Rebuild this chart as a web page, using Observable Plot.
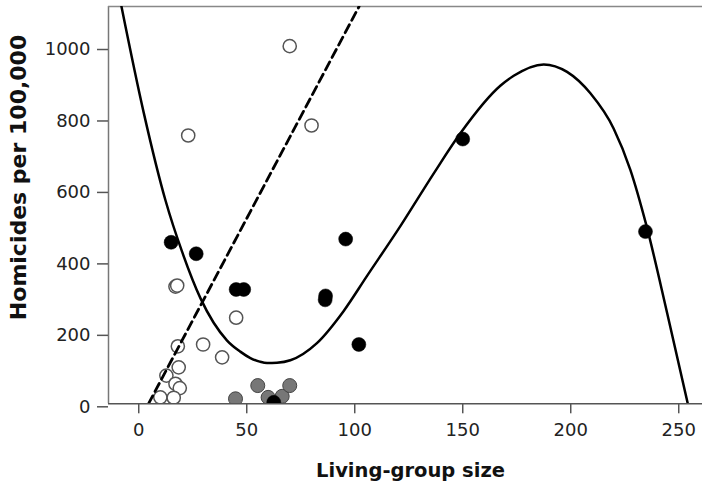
<!DOCTYPE html>
<html>
<head>
<meta charset="utf-8">
<script src="https://cdn.jsdelivr.net/npm/d3@7"></script>
<script src="https://cdn.jsdelivr.net/npm/@observablehq/plot@0.6"></script>
<style>
  html, body { margin: 0; padding: 0; background: #fff; }
</style>
</head>
<body>
<div id="chart"></div>
<script>
// Open circles
const openX = [69.9, 22.9, 80.0, 17.0, 17.8, 45.1, 18.1, 29.8, 38.6, 18.5, 12.8, 17.0, 19.0, 10.0, 16.2];
const openY = [1001, 751, 779, 328, 331, 241, 161, 166, 130, 102, 79, 56, 44, 18, 17];
// Gray circles
const grayX = [44.8, 55.1, 59.9, 66.4, 69.9];
const grayY = [14, 51, 18, 21, 51];
// Black circles
const blackX = [15.0, 26.6, 45.1, 48.6, 86.3, 86.5, 95.8, 101.9, 150.0, 234.6, 62.5];
const blackY = [452, 420, 320, 320, 291, 302, 461, 166, 741, 482, 4];
// Solid fitted curve
const fitX = [-8.0, 2.3, 12.4, 20.1, 28.6, 40.9, 47.0, 51.7, 56.0, 59.4, 64.0, 70.2, 82.5, 94.9, 105.7, 121.2, 136.6, 148.9, 167.4, 173.6, 187.5, 198.3, 209.1, 219.9, 227.6, 235.0, 244.6, 254.2];
const fitY = [1112, 815, 569, 425, 295, 177, 146, 128, 118, 114, 115, 122, 170, 260, 358, 498, 645, 757, 890, 918, 950, 929, 869, 770, 655, 500, 255, 0];
// Dashed line endpoints
const dashX = [4.5, 102.0];
const dashY = [0, 1112];
// Ticks
const xTicks = [0, 50, 100, 150, 200, 250];
const yTicks = [0, 200, 400, 600, 800, 1000];

const openPts = openX.map((x, i) => ({x, y: openY[i]}));
const grayPts = grayX.map((x, i) => ({x, y: grayY[i]}));
const blackPts = blackX.map((x, i) => ({x, y: blackY[i]}));
const fitPts = fitX.map((x, i) => ({x, y: fitY[i]}));
const dashPts = dashX.map((x, i) => ({x, y: dashY[i]}));

const xMin = -14, xMax = 261, yMax = 1112;

const chart = Plot.plot({
  width: 702,
  height: 485,
  marginLeft: 108,
  marginRight: 0,
  marginTop: 6,
  marginBottom: 81.7,
  x: {domain: [xMin, xMax]},
  y: {domain: [0, yMax]},
  style: {fontFamily: "DejaVu Sans", fontSize: "18px", background: "#fff", color: "#222"},
  marks: [
    Plot.ruleX([xMin], {stroke: "#777", strokeWidth: 1.5}),
    Plot.ruleY([yMax], {stroke: "#888", strokeWidth: 1.5}),
    Plot.axisY({ticks: yTicks, tickFormat: d => String(d), tickSize: 11, tickPadding: 7, label: null, stroke: "#555", fill: "#222", fontSize: 18, dy: 3, strokeWidth: 1.5}),
    Plot.axisX({ticks: xTicks, tickFormat: d => String(d), tickSize: 10, tickPadding: 9, label: null, stroke: "#555", fill: "#222", fontSize: 18, strokeWidth: 1.5}),
    Plot.dot(openPts, {x: "x", y: "y", r: 6.6, fill: "white", stroke: "#555", strokeWidth: 1.5, clip: true}),
    Plot.dot(grayPts, {x: "x", y: "y", r: 7, fill: "#777", stroke: "#444", strokeWidth: 1, clip: true}),
    Plot.dot(blackPts, {x: "x", y: "y", r: 7, fill: "#000", stroke: "#000", strokeWidth: 0.5, clip: true}),
    Plot.line(fitPts, {x: "x", y: "y", curve: "monotone-x", stroke: "#000", strokeWidth: 2.5, clip: true}),
    Plot.line(dashPts, {x: "x", y: "y", stroke: "#000", strokeWidth: 2.8, strokeDasharray: "9,5", clip: true}),
    Plot.ruleY([0], {stroke: "#555", strokeWidth: 1.5}),
    Plot.text(["Living-group size"], {frameAnchor: "bottom", textAnchor: "middle", dx: 5, dy: 66.6, lineAnchor: "middle", fontWeight: "bold", fontSize: 19.5, fill: "#111"}),
    Plot.text(["Homicides per 100,000"], {frameAnchor: "left", textAnchor: "middle", dx: -90, dy: -27.7, rotate: -90, lineAnchor: "middle", fontWeight: "bold", fontSize: 22, fill: "#111"})
  ]
});
document.getElementById("chart").appendChild(chart);
</script>
</body>
</html>
